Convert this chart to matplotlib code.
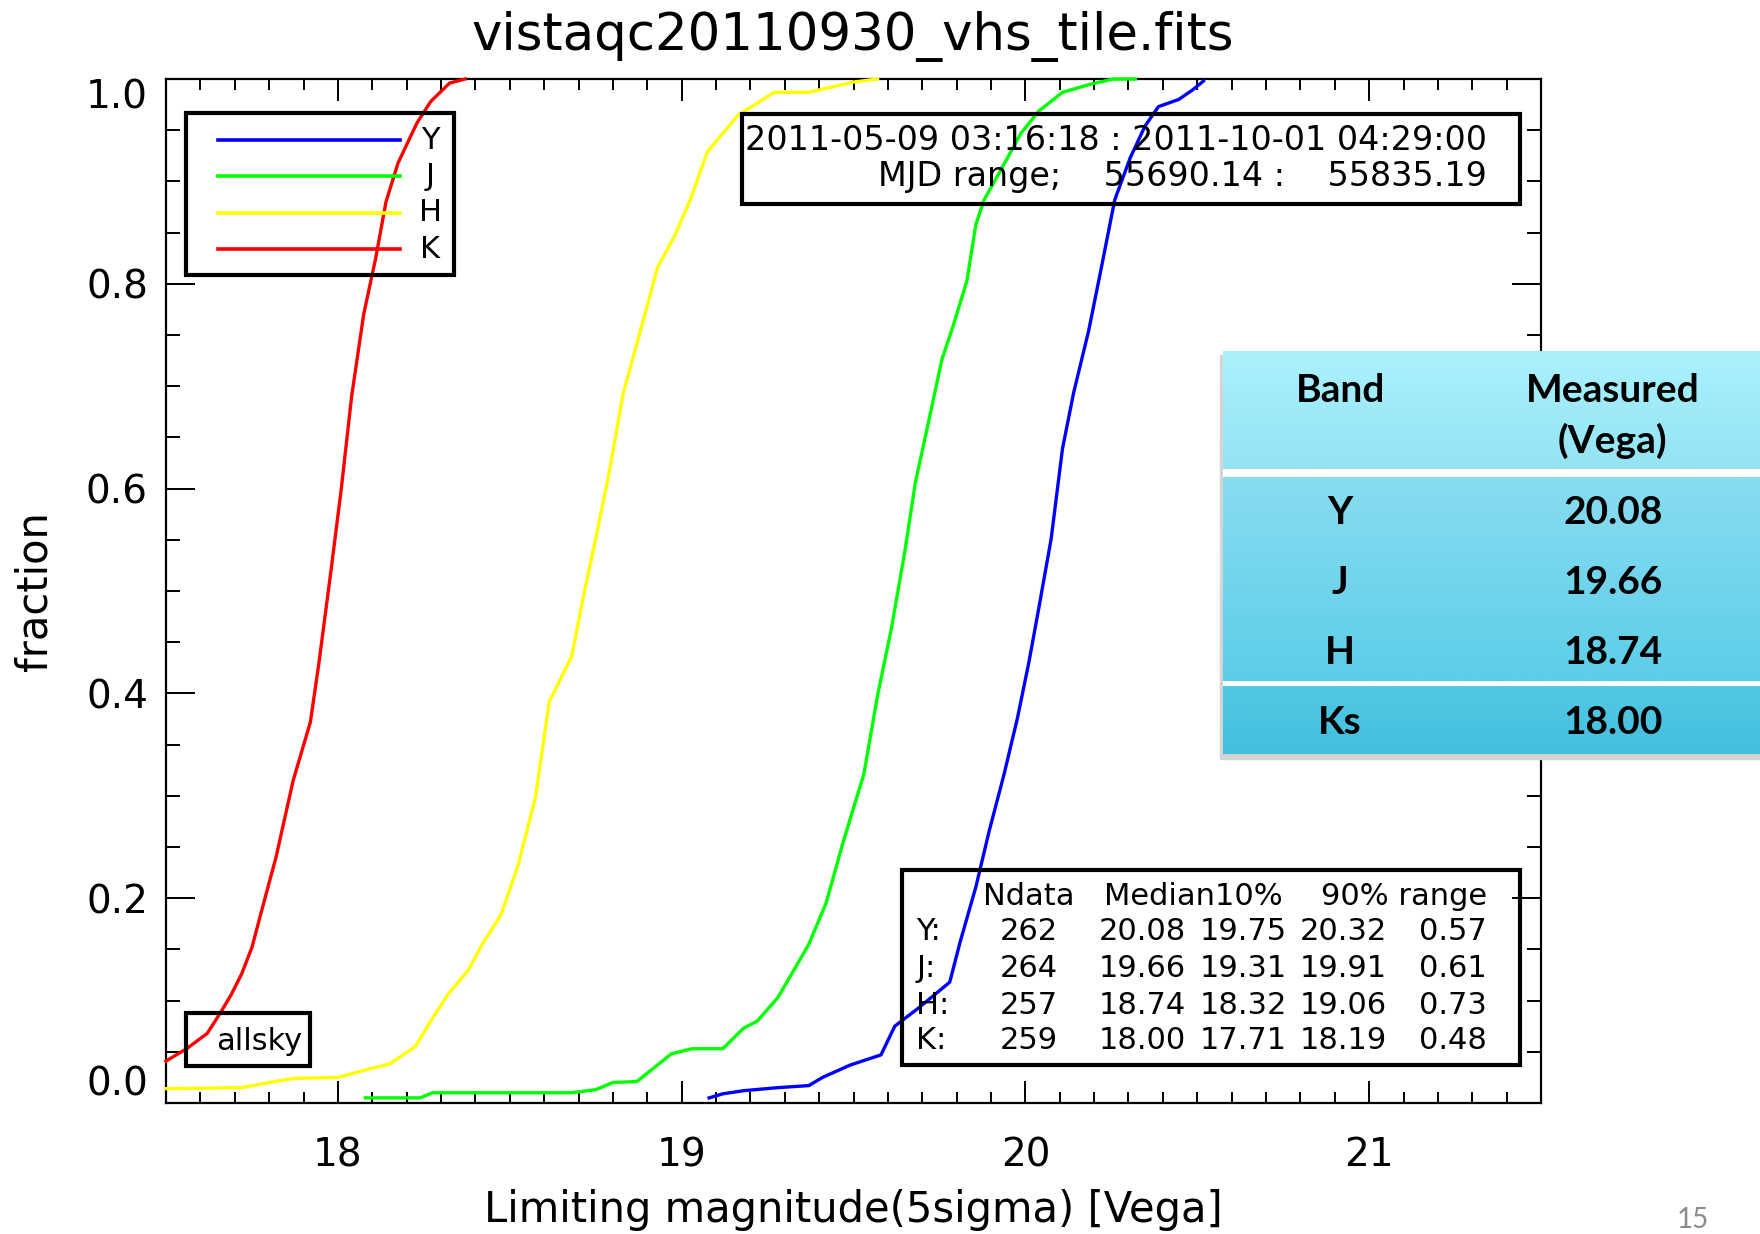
import numpy as np
import matplotlib.pyplot as plt
from matplotlib.patches import Rectangle
from matplotlib.colors import to_rgb
from matplotlib.ticker import MultipleLocator, FormatStrFormatter

W, H = 1760, 1234

bands = ["Y", "J", "H", "K"]
colors = ["#0000ff", "#00ff00", "#ffff00", "#ff0000"]

# cumulative fraction curves
y_mag = [19.08, 19.12, 19.18, 19.28, 19.37, 19.41, 19.49, 19.58, 19.62, 19.69,
         19.78, 19.81, 19.856, 19.895, 19.938, 19.977, 20.01, 20.04, 20.075, 20.108,
         20.14, 20.184, 20.22, 20.26, 20.305, 20.348, 20.387, 20.446, 20.485, 20.518]
y_frac = [0.005, 0.009, 0.012, 0.015, 0.017, 0.025, 0.037, 0.047, 0.075, 0.093,
          0.118, 0.157, 0.211, 0.266, 0.321, 0.376, 0.43, 0.485, 0.551, 0.639,
          0.693, 0.754, 0.814, 0.882, 0.923, 0.954, 0.973, 0.98, 0.989, 0.998]

j_mag = [18.08, 18.24, 18.275, 18.68, 18.75, 18.80, 18.87, 18.97, 19.03, 19.12,
         19.18, 19.22, 19.28, 19.32, 19.37, 19.42, 19.47, 19.53, 19.57, 19.61,
         19.65, 19.68, 19.715, 19.757, 19.79, 19.83, 19.856, 19.88, 19.93, 19.987,
         20.04, 20.108, 20.19, 20.256, 20.32]
j_frac = [0.005, 0.005, 0.01, 0.01, 0.013, 0.02, 0.021, 0.048, 0.053, 0.053,
          0.073, 0.08, 0.103, 0.126, 0.155, 0.195, 0.255, 0.321, 0.398, 0.463,
          0.54, 0.606, 0.66, 0.726, 0.759, 0.803, 0.858, 0.882, 0.912, 0.947,
          0.969, 0.987, 0.995, 1.0, 1.0]

h_mag = [17.5, 17.72, 17.80, 17.87, 18.0, 18.1, 18.15, 18.225, 18.27, 18.32,
         18.38, 18.42, 18.475, 18.525, 18.575, 18.615, 18.68, 18.715, 18.75, 18.79,
         18.83, 18.88, 18.93, 18.98, 19.025, 19.075, 19.165, 19.27, 19.37, 19.5, 19.57]
h_frac = [0.014, 0.015, 0.02, 0.024, 0.025, 0.034, 0.038, 0.055, 0.08, 0.106,
          0.13, 0.155, 0.184, 0.233, 0.299, 0.392, 0.436, 0.496, 0.551, 0.617,
          0.693, 0.754, 0.816, 0.847, 0.882, 0.929, 0.965, 0.987, 0.987, 0.997, 1.0]

k_mag = [17.5, 17.56, 17.62, 17.66, 17.69, 17.72, 17.75, 17.78, 17.82, 17.87,
         17.92, 17.945, 17.98, 18.01, 18.04, 18.075, 18.11, 18.14, 18.175, 18.23,
         18.27, 18.325, 18.37]
k_frac = [0.041, 0.053, 0.068, 0.089, 0.106, 0.126, 0.152, 0.19, 0.24, 0.315,
          0.372, 0.43, 0.52, 0.6, 0.69, 0.77, 0.825, 0.88, 0.918, 0.957,
          0.978, 0.996, 1.0]

curves = [(y_mag, y_frac), (j_mag, j_frac), (h_mag, h_frac), (k_mag, k_frac)]

ndata = [262, 264, 257, 259]
median = [20.08, 19.66, 18.74, 18.00]
p10 = [19.75, 19.31, 18.32, 17.71]
p90 = [20.32, 19.91, 19.06, 18.19]
spread = [0.57, 0.61, 0.73, 0.48]

date_line = "2011-05-09 03:16:18 : 2011-10-01 04:29:00"
mjd_line = "MJD range;    55690.14 :    55835.19"

table_bands = ["Y", "J", "H", "Ks"]
table_measured = ["20.08", "19.66", "18.74", "18.00"]

fig = plt.figure(figsize=(W / 100, H / 100), dpi=100)
ax = fig.add_axes([166 / W, 1 - 1103 / H, 1375 / W, 1024 / H])

for (m, f), c in zip(curves, colors):
    ax.plot(m, f, color=c, lw=2.4, clip_on=False, zorder=3)

ax.set_xlim(17.5, 21.5)
ax.set_ylim(0, 1)
ax.xaxis.set_major_locator(MultipleLocator(1))
ax.xaxis.set_minor_locator(MultipleLocator(0.1))
ax.yaxis.set_major_locator(MultipleLocator(0.2))
ax.yaxis.set_minor_locator(MultipleLocator(0.05))
ax.yaxis.set_major_formatter(FormatStrFormatter("%.1f"))
ax.tick_params(which="both", direction="in", top=True, right=True, width=1.4)
ax.tick_params(axis="x", which="major", length=16, pad=24, labelsize=28)
ax.tick_params(axis="x", which="minor", length=8)
ax.tick_params(axis="y", which="major", length=21, pad=13, labelsize=28)
ax.tick_params(axis="y", which="minor", length=10)
for s in ax.spines.values():
    s.set_linewidth(1.6)

ax.set_xlabel("Limiting magnitude(5sigma) [Vega]", fontsize=30)
ax.xaxis.set_label_coords(0.5, -0.1045)
ax.xaxis.label.set_va("center")
ax.set_ylabel("fraction", fontsize=30)
ax.yaxis.set_label_coords(-0.096, 0.5)
ax.yaxis.label.set_va("center")

fig.text(853 / W, 1 - 37 / H, "vistaqc20110930_vhs_tile.fits", fontsize=37,
         ha="center", va="center")

box_kw = dict(fill=False, lw=3, ec="black", transform=ax.transAxes, zorder=4)
fs = 22

# legend box
ax.add_patch(Rectangle((0.0145, 0.8086), 0.195, 0.1582, **box_kw))
for i, (b, c) in enumerate(zip(bands, colors)):
    yy = 0.9404 - i * 0.0355
    ax.plot([0.0378, 0.170], [yy, yy], color=c, lw=2.6, transform=ax.transAxes, zorder=4)
    ax.text(0.192, yy, b, fontsize=fs, ha="center", va="center", transform=ax.transAxes)

# date box
ax.add_patch(Rectangle((0.419, 0.878), 0.566, 0.0878, **box_kw))
ax.text(0.9607, 0.9395, date_line, fontsize=24, ha="right", va="center", transform=ax.transAxes)
ax.text(0.9607, 0.905, mjd_line, fontsize=24, ha="right", va="center", transform=ax.transAxes)

# statistics box
ax.add_patch(Rectangle((0.535, 0.0371), 0.45, 0.1904, **box_kw))
row_y = [0.167, 0.1318, 0.0957, 0.0615]
tkw = dict(fontsize=fs, va="center", transform=ax.transAxes)
ax.text(0.6604, 0.2012, "Ndata", ha="right", **tkw)
ax.text(0.8124, 0.2012, "Median10%", ha="right", **tkw)
ax.text(0.9607, 0.2012, "90% range", ha="right", **tkw)
for i, b in enumerate(bands):
    ry = row_y[i]
    ax.text(0.5455, ry, b + ":", ha="left", **tkw)
    ax.text(0.6487, ry, f"{ndata[i]}", ha="right", **tkw)
    ax.text(0.7418, ry, f"{median[i]:.2f}", ha="right", **tkw)
    ax.text(0.8153, ry, f"{p10[i]:.2f}", ha="right", **tkw)
    ax.text(0.888, ry, f"{p90[i]:.2f}", ha="right", **tkw)
    ax.text(0.9607, ry, f"{spread[i]:.2f}", ha="right", **tkw)

# allsky box
ax.add_patch(Rectangle((0.0145, 0.0361), 0.0902, 0.0518, **box_kw))
ax.text(0.0676, 0.0596, "allsky", fontsize=fs, ha="center", va="center", transform=ax.transAxes)

# overlaid summary table
shadow = Rectangle((1220 / W, 1 - 759 / H), 1 - 1220 / W, 404 / H,
                   transform=fig.transFigure, color="#d4d4d4", zorder=4)
fig.patches.append(shadow)

tab = fig.add_axes([1223 / W, 1 - 754 / H, 1 - 1223 / W, 403 / H])
tab.set_zorder(5)
tab.add_patch(Rectangle((0, 0), 1, 403, color="white", zorder=0))


def grad(y0, y1, c0, c1):
    t = np.linspace(0, 1, 60)[:, None]
    arr = (1 - t) * np.array(to_rgb(c0)) + t * np.array(to_rgb(c1))
    tab.imshow(arr[:, None, :], extent=(0, 1, y1, y0), aspect="auto",
               interpolation="bilinear", zorder=1)


grad(0, 118, "#abf1fd", "#93e4f5")
grad(126, 330, "#89dcf0", "#5ccee8")
grad(336, 403, "#52c8e4", "#44bfdf")
tab.set_xlim(0, 1)
tab.set_ylim(403, 0)
tab.axis("off")

bkw = dict(fontsize=28, fontweight="bold", family=["Lato", "DejaVu Sans"],
           ha="center", va="center", zorder=3)
tab.text(0.218, 40, "Band", **bkw)
tab.text(0.726, 40, "Measured", **bkw)
tab.text(0.726, 90, "(Vega)", **bkw)
for i, (b, v) in enumerate(zip(table_bands, table_measured)):
    tab.text(0.218, 162 + i * 70, b, **bkw)
    tab.text(0.726, 162 + i * 70, v, **bkw)

fig.text(1693 / W, 1 - 1220 / H, "15", fontsize=20, color="#8a8a8a",
         family=["Lato", "DejaVu Sans"], ha="center", va="center")

# end labels of the y axis sit inside the frame, as in the original
fig.canvas.draw()
for t in ax.yaxis.get_major_ticks():
    if np.isclose(t.get_loc(), 0):
        t.label1.set_va("bottom")
    elif np.isclose(t.get_loc(), 1):
        t.label1.set_va("top")

fig.savefig("out.png", dpi=100)
